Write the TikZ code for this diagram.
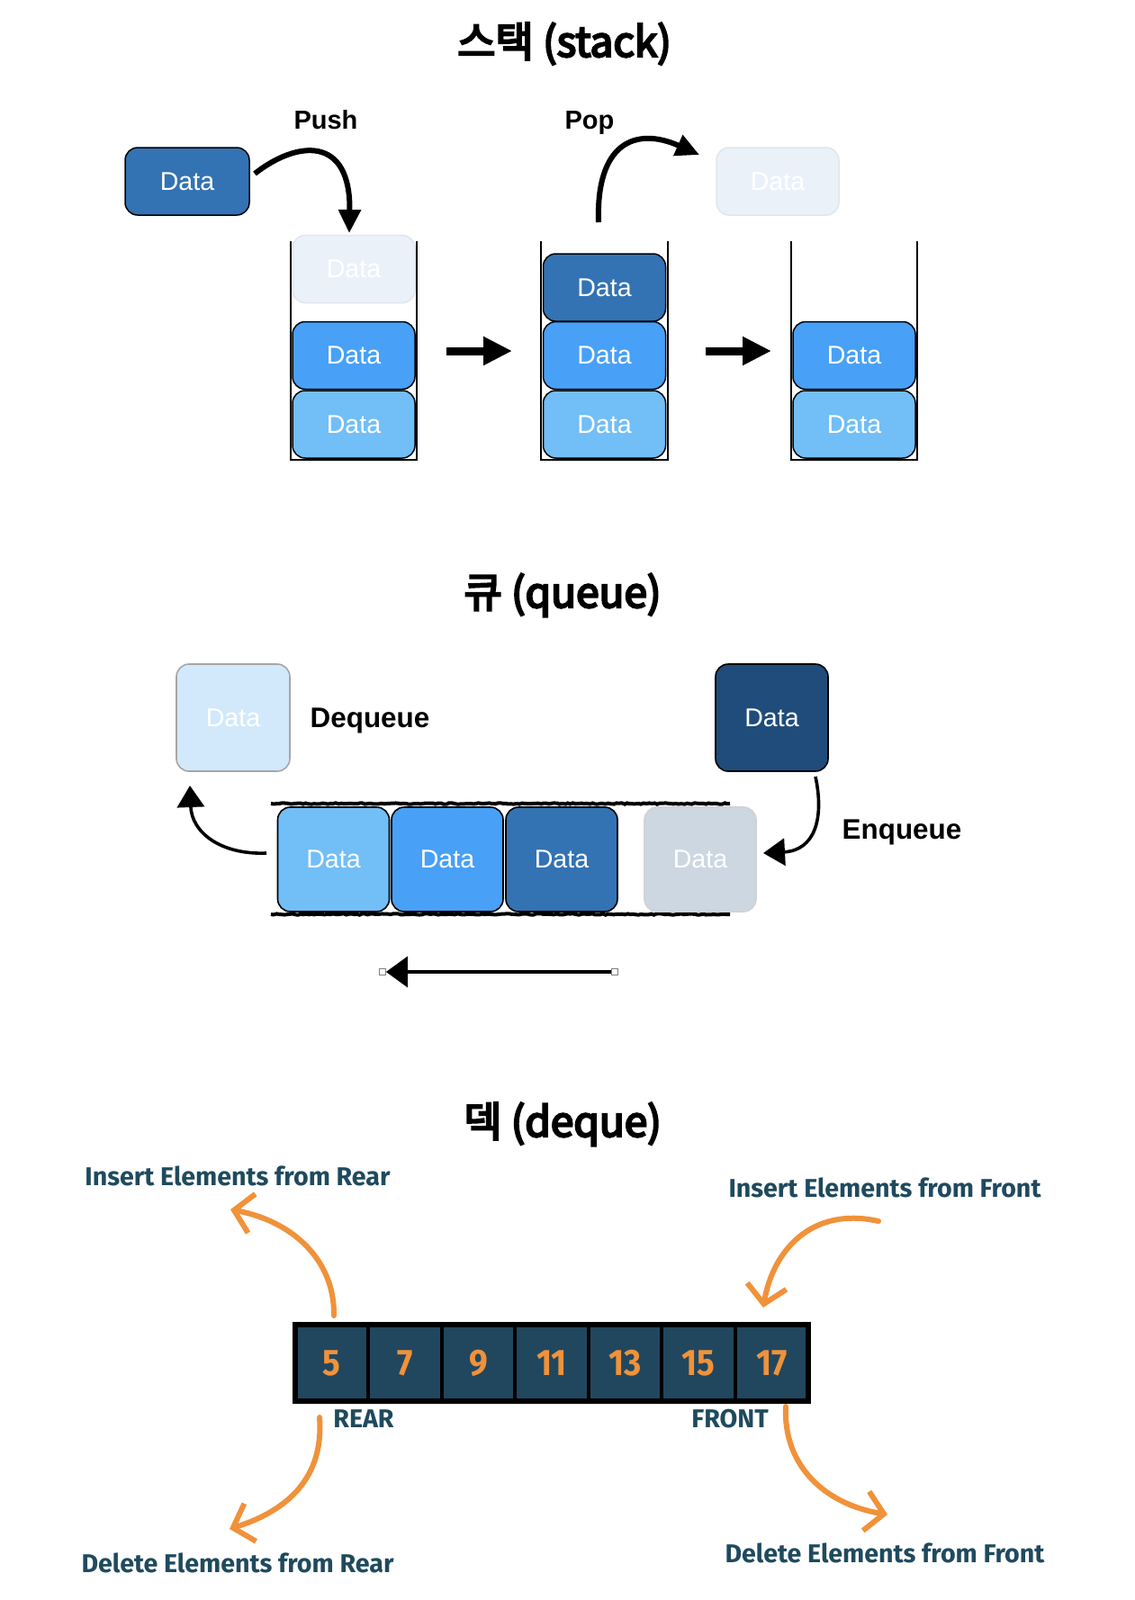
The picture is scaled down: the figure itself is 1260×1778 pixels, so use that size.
\documentclass[tikz,border=0pt]{standalone}
\usepackage{fontspec}
\setmainfont{Liberation Sans}
\newfontfamily\krfont{Noto Sans CJK KR}[FakeBold=5]
\newfontfamily\firafont{Fira Sans}
\newfontfamily\firacond{Fira Sans}[FakeStretch=0.9]
\usetikzlibrary{arrows.meta,decorations.pathmorphing}
\definecolor{sdark}{HTML}{3373B3}
\definecolor{smid}{HTML}{48A0F7}
\definecolor{slight}{HTML}{72BEF7}
\definecolor{sghost}{HTML}{EBF1F8}
\definecolor{sghostb}{HTML}{E0E6ED}
\definecolor{qghost}{HTML}{D2E9FB}
\definecolor{qnavy}{HTML}{1F4C7B}
\definecolor{qgray}{HTML}{CCD7E2}
\definecolor{cellfill}{HTML}{21475E}
\definecolor{orng}{HTML}{F0923A}
\definecolor{teal}{HTML}{1F4A5E}
\begin{document}
\begin{tikzpicture}[x=0.5pt,y=-0.5pt,
  datafont/.style={font=\fontsize{14.3}{17}\selectfont},
  sbox/.style={draw=black, line width=0.75pt, rounded corners=7pt, minimum width=68pt, minimum height=37.5pt, inner sep=0pt, text=white, datafont},
  qbox/.style={draw=black, line width=0.8pt, rounded corners=7pt, minimum width=62pt, minimum height=58pt, inner sep=0pt, text=white, datafont},
  ttl/.style={font=\krfont\fontsize{23}{28}\selectfont, anchor=base},
  lbl/.style={font=\bfseries\fontsize{14.5}{17}\selectfont, anchor=base},
  qlbl/.style={font=\bfseries\fontsize{15.7}{19}\selectfont, anchor=base},
  tlbl/.style={font=\firafont\bfseries\fontsize{14.3}{17}\selectfont, text=teal, anchor=base},
  cell/.style={draw=black, line width=2pt, fill=cellfill, minimum width=40.7pt, minimum height=42.5pt, inner sep=0pt, text=orng, font=\firacond\bfseries\fontsize{20.5}{24}\selectfont},
  blk/.style={line width=4.5pt, -{Triangle[length=16pt,width=15pt]}},
  curv/.style={line width=3pt, -{Triangle[length=13pt,width=12pt]}},
  sketch/.style={decorate, decoration={random steps, segment length=1.5pt, amplitude=0.35pt}},
  qarr/.style={line width=1.8pt, -{Triangle[length=12pt,width=15pt]}},
  oarr/.style={draw=orng, line width=3pt, line cap=round, -{Straight Barb[length=10pt,width=22pt,line width=3pt]}},
  handle/.style={draw=gray, fill=white, line width=0.4pt, minimum size=3.5pt, inner sep=0pt}
]
\fill[white] (0,0) rectangle (1260,1778);
\useasboundingbox (0,0) rectangle (1260,1778);

% ===== STACK =====
\node[ttl] (t1) at (627,63) {스택 (stack)};
\node[lbl] (push) at (362,143) {Push};
\node[lbl] (pop) at (655,143) {Pop};

\node[sbox, fill=sdark, minimum width=69pt] (d0) at (208,201.5) {Data};
\node[sbox, fill=sghost, draw=sghostb] (g2) at (864,201.5) {Data};

% stack containers
\draw[line width=1.25pt] (323,268) -- (323,511) -- (463,511) -- (463,268);
\draw[line width=1.25pt] (601,268) -- (601,511) -- (742,511) -- (742,268);
\draw[line width=1.25pt] (879,268) -- (879,511) -- (1019,511) -- (1019,268);

% stack 1
\node[sbox, fill=sghost, draw=sghostb] (a1) at (393,299) {Data};
\node[sbox, fill=smid] (a2) at (393,395) {Data};
\node[sbox, fill=slight] (a3) at (393,471.5) {Data};
% stack 2
\node[sbox, fill=sdark] (b1) at (671.5,319.5) {Data};
\node[sbox, fill=smid] (b2) at (671.5,395) {Data};
\node[sbox, fill=slight] (b3) at (671.5,471.5) {Data};
% stack 3
\node[sbox, fill=smid] (c2) at (949,395) {Data};
\node[sbox, fill=slight] (c3) at (949,471.5) {Data};

\coordinate (ar1s) at (496,390); \coordinate (ar1e) at (569,390);
\coordinate (ar2s) at (784,390); \coordinate (ar2e) at (857,390);
\draw[blk] (ar1s) -- (ar1e);
\draw[blk] (ar2s) -- (ar2e);

\coordinate (pushS) at (283,193); \coordinate (pushE) at (388,259);
\draw[curv] (pushS) .. controls (330,156) and (390,150) .. (pushE);
\coordinate (popS) at (665,247); \coordinate (popE) at (777,172);
\draw[curv] (popS) .. controls (662,160) and (705,140) .. (popE);

% ===== QUEUE =====
\node[ttl] (t2) at (625,675) {큐 (queue)};
\node[qlbl] (deq) at (411,808) {Dequeue};
\node[qlbl] (enq) at (1002,932) {Enqueue};

\node[qbox, fill=qghost, draw=gray!70, minimum width=63pt, minimum height=59.5pt] (qg) at (259,797.5) {Data};
\node[qbox, fill=qnavy, minimum width=62.5pt, minimum height=59.5pt] (qn) at (857.5,797.5) {Data};

\draw[line width=2pt, sketch] (301,893) -- (811,893);
\draw[line width=2pt, sketch] (301,1016) -- (811,1016);

\node[qbox, fill=slight] (q1) at (370.5,955) {Data};
\node[qbox, fill=smid] (q2) at (497,955) {Data};
\node[qbox, fill=sdark] (q3) at (624,955) {Data};
\node[qbox, fill=qgray, draw=gray!35] (q4) at (778,955) {Data};

\coordinate (enqS) at (906,863); \coordinate (enqE) at (848,948);
\draw[qarr] (enqS) .. controls (916,910) and (905,945) .. (enqE);
\coordinate (deqS) at (296,948); \coordinate (deqE) at (211,873);
\draw[qarr] (deqS) .. controls (245,950) and (213,925) .. (deqE);

\node[handle] (h1) at (425,1080) {};
\node[handle] (h2) at (683,1080) {};
\draw[line width=1.6pt, -{Triangle[length=12pt,width=17pt]}] (h2) -- (h1);

% ===== DEQUE =====
\node[ttl] (t3) at (625,1263) {덱 (deque)};
\node[tlbl] (ir) at (264,1317) {Insert Elements from Rear};
\node[tlbl] (if) at (983,1330) {Insert Elements from Front};
\node[tlbl] (dr) at (264,1747) {Delete Elements from Rear};
\node[tlbl] (df) at (983,1736) {Delete Elements from Front};
\node[tlbl] (rear) at (404,1586) {REAR};
\node[tlbl] (front) at (811,1586) {FRONT};

\foreach \v [count=\i] in {5,7,9,11,13,15,17}{
  \node[cell] (k\i) at ({328+81.43*(\i-0.5)},1514.5) {\v};
}
\draw[line width=2.75pt] (328,1472) rectangle (898,1557);

\coordinate (irS) at (371,1462); \coordinate (irE) at (256,1344);
\draw[oarr] (irS) .. controls (372,1400) and (325,1357) .. (irE);
\coordinate (ifS) at (976,1357); \coordinate (ifE) at (848,1453);
\draw[oarr] (ifS) .. controls (900,1340) and (858,1392) .. (ifE);
\coordinate (drS) at (355,1575); \coordinate (drE) at (255,1699);
\draw[oarr] (drS) .. controls (360,1640) and (322,1678) .. (drE);
\coordinate (dfS) at (873,1563); \coordinate (dfE) at (986,1683);
\draw[oarr] (dfS) .. controls (870,1630) and (918,1672) .. (dfE);
\end{tikzpicture}
\end{document}
